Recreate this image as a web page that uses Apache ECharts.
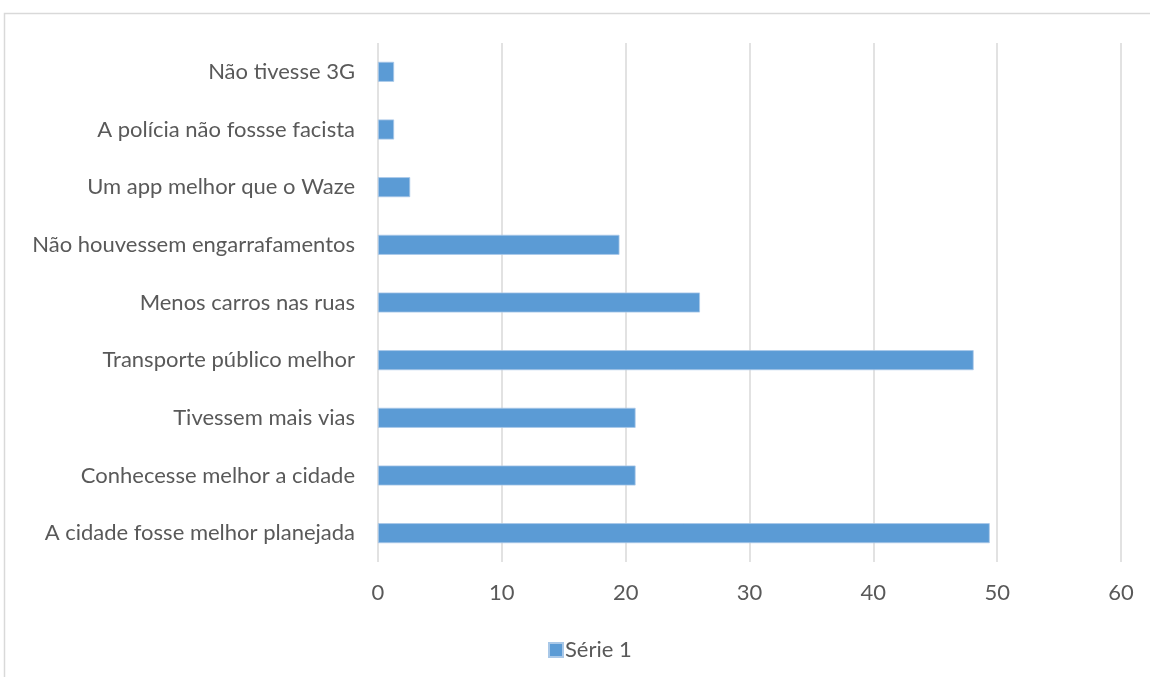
<!DOCTYPE html>
<html>
<head>
<meta charset="utf-8">
<script src="https://cdn.jsdelivr.net/npm/echarts@6/dist/echarts.min.js"></script>
<style>
  html, body { margin: 0; padding: 0; background: #fff; }
  #chart { width: 1150px; height: 677px; }
</style>
</head>
<body>
<div id="chart"></div>
<script>
// Categories, top to bottom
const categories = [
  'Não tivesse 3G',
  'A polícia não fossse facista',
  'Um app melhor que o Waze',
  'Não houvessem engarrafamentos',
  'Menos carros nas ruas',
  'Transporte público melhor',
  'Tivessem mais vias',
  'Conhecesse melhor a cidade',
  'A cidade fosse melhor planejada'
];
const seriesName = 'Série 1';
const values = [1.3, 1.3, 2.6, 19.5, 26.0, 48.1, 20.8, 20.8, 49.4];
const xTicks = { min: 0, max: 60, interval: 10 };

const FONT = 'Lato, "Open Sans", sans-serif';
const TEXT = '#595959';
const GRID = '#d9d9d9';
const BAR = '#5b9bd5';
const FS = 22;

const chart = echarts.init(document.getElementById('chart'), null, { renderer: 'canvas' });
chart.setOption({
  animation: false,
  backgroundColor: '#fff',
  textStyle: { fontFamily: FONT },
  graphic: [{
    type: 'rect',
    shape: { x: 4.5, y: 13.5, width: 1200, height: 700 },
    style: { fill: 'none', stroke: GRID, lineWidth: 1.5 },
    silent: true,
    z: -10
  }],
  legend: {
    data: [seriesName],
    left: 543,
    top: 634,
    itemWidth: 14,
    itemHeight: 14,
    itemGap: 6,
    icon: 'rect',
    textStyle: { color: TEXT, fontSize: FS, fontFamily: FONT, padding: [0, 0, 0, -3] }
  },
  grid: { left: 378, right: 29, top: 43, bottom: 115, containLabel: false },
  xAxis: {
    type: 'value',
    min: xTicks.min,
    max: xTicks.max,
    interval: xTicks.interval,
    axisLine: { show: false },
    axisTick: { show: false },
    axisLabel: { color: TEXT, fontSize: FS, fontFamily: FONT, margin: 20 },
    splitLine: { show: true, lineStyle: { color: GRID, width: 1.5 } }
  },
  yAxis: {
    type: 'category',
    data: categories,
    inverse: true,
    axisLine: { show: false },
    axisTick: { show: false },
    axisLabel: { color: TEXT, fontSize: FS, fontFamily: FONT, margin: 23 }
  },
  series: [{
    name: seriesName,
    type: 'bar',
    data: values,
    barWidth: 20,
    itemStyle: { color: BAR, borderColor: '#a9c8e8', borderWidth: 0.8 }
  }]
});
</script>
</body>
</html>
